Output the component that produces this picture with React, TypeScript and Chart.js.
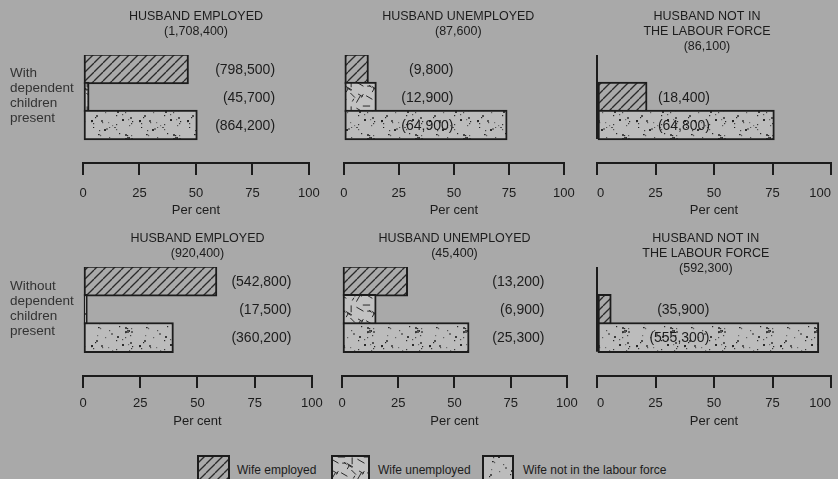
import React, { useEffect, useRef } from "react";
import { Chart, registerables } from "chart.js";

Chart.register(...registerables);

// ---------- data ----------
const panelTitles: string[][] = [
  ["HUSBAND EMPLOYED", "(1,708,400)"],
  ["HUSBAND UNEMPLOYED", "(87,600)"],
  ["HUSBAND NOT IN", "THE LABOUR FORCE", "(86,100)"],
  ["HUSBAND EMPLOYED", "(920,400)"],
  ["HUSBAND UNEMPLOYED", "(45,400)"],
  ["HUSBAND NOT IN", "THE LABOUR FORCE", "(592,300)"],
];
const wifeEmployedPct = [46.7, 11.2, 21.4, 58.5, 29.2, 6.1];
const wifeUnemployedPct: (number | null)[] = [2.7, 14.8, null, 1.9, 15.2, null];
const wifeNotInLabourForcePct = [50.6, 74.2, 75.8, 39.5, 56.5, 94.8];
const wifeEmployedCount = ["(798,500)", "(9,800)", "(18,400)", "(542,800)", "(13,200)", "(35,900)"];
const wifeUnemployedCount: (string | null)[] = ["(45,700)", "(12,900)", null, "(17,500)", "(6,900)", null];
const wifeNotInLabourForceCount = ["(864,200)", "(64,900)", "(64,800)", "(360,200)", "(25,300)", "(555,300)"];
const xTickValues = [0, 25, 50, 75, 100];
const axisTitle = "Per cent";
const rowLabels = [
  ["With", "dependent", "children", "present"],
  ["Without", "dependent", "children", "present"],
];
const legendLabels = ["Wife employed", "Wife unemployed", "Wife not in the labour force"];

// ---------- layout / style ----------
const BG = "#a9a9a9";
const INK = "#1c1c1c";
const FONT = "'Liberation Sans', Arial, sans-serif";
const COLS = [
  { left: 40, width: 290, x0: 83, x1: 317, tickAlign: "center" },
  { left: 330, width: 255, x0: 342, x1: 571, tickAlign: "center" },
  { left: 585, width: 270, x0: 597, x1: 831, tickAlign: "inner" },
];
const ROWS = [
  { top: 0, height: 225, barTop: 55, axisY: 163, tickLabelY: 193, perCentY: 210, titleY: 17 },
  { top: 225, height: 225, barTop: 267, axisY: 376, tickLabelY: 403, perCentY: 421, titleY: 239 },
];
const countLabelRightPct = [85, 49.8, 48.3, 91, 90, 48];
const titleCenterPct = [50, 52, 47, 50, 50, 46.5];
const showBaseLine = [false, false, true, false, false, true];
const TICK_FONT = 13;
const LH = TICK_FONT * 1.2;
const TICK_LEN = 12;
const Y_MIN = -0.5;
const Y_MAX = 3.36;

function lcg(seed: number) {
  let s = seed;
  return () => {
    s = (s * 1103515245 + 12345) % 2147483648;
    return s / 2147483648;
  };
}

function makeTile(kind: string): HTMLCanvasElement {
  const c = document.createElement("canvas");
  const ctx = c.getContext("2d")!;
  if (kind === "hatch") {
    const s = 9;
    c.width = s;
    c.height = s;
    ctx.fillStyle = "#aaaaaa";
    ctx.fillRect(0, 0, s, s);
    ctx.strokeStyle = "#2a2a2a";
    ctx.lineWidth = 1.3;
    for (const k of [-s, 0, s]) {
      ctx.beginPath();
      ctx.moveTo(k, s);
      ctx.lineTo(k + s, 0);
      ctx.stroke();
    }
  } else if (kind === "dots") {
    c.width = 48;
    c.height = 32;
    ctx.fillStyle = "#bcbcbc";
    ctx.fillRect(0, 0, 48, 32);
    const r = lcg(7);
    for (let i = 0; i < 46; i++) {
      const g = Math.floor(30 + r() * 90);
      ctx.fillStyle = `rgb(${g},${g},${g})`;
      const sz = r() < 0.3 ? 2 : 1.2;
      ctx.fillRect(Math.floor(r() * 48), Math.floor(r() * 32), sz, sz);
    }
  } else {
    c.width = 26;
    c.height = 26;
    ctx.fillStyle = "#c2c2c2";
    ctx.fillRect(0, 0, 26, 26);
    const r = lcg(11);
    ctx.strokeStyle = "#2a2a2a";
    ctx.lineWidth = 1;
    const angles = [0, Math.PI / 4, -Math.PI / 3, Math.PI / 2, Math.PI / 6];
    for (let i = 0; i < 14; i++) {
      const x = r() * 26;
      const y = r() * 26;
      const a = angles[Math.floor(r() * angles.length)];
      const len = 3 + r() * 6;
      ctx.beginPath();
      ctx.moveTo(x, y);
      ctx.lineTo(x + Math.cos(a) * len, y + Math.sin(a) * len);
      ctx.stroke();
    }
  }
  return c;
}

export default function App() {
  const canvasRefs = useRef<(HTMLCanvasElement | null)[]>([]);
  const swatchRefs = useRef<(HTMLCanvasElement | null)[]>([]);

  useEffect(() => {
    document.body.style.margin = "0";
    const tiles = { emp: makeTile("hatch"), unemp: makeTile("unemp"), nlf: makeTile("dots") };
    const charts: Chart[] = [];

    panelTitles.forEach((titleLines, i) => {
      const canvas = canvasRefs.current[i];
      if (!canvas) return;
      const ctx = canvas.getContext("2d")!;
      const row = ROWS[Math.floor(i / 3)];
      const col = COLS[i % 3];
      const pats = {
        emp: ctx.createPattern(tiles.emp, "repeat")!,
        unemp: ctx.createPattern(tiles.unemp, "repeat")!,
        nlf: ctx.createPattern(tiles.nlf, "repeat")!,
      };
      const empE = { pct: wifeEmployedPct[i], count: wifeEmployedCount[i], pat: pats.emp };
      const nlfE = { pct: wifeNotInLabourForcePct[i], count: wifeNotInLabourForceCount[i], pat: pats.nlf };
      const slots: ({ pct: number; count: string; pat: CanvasPattern } | null)[] =
        wifeUnemployedPct[i] == null
          ? [null, empE, nlfE]
          : [empE, { pct: wifeUnemployedPct[i] as number, count: wifeUnemployedCount[i] as string, pat: pats.unemp }, nlfE];
      const points: { x: number; y: number }[] = [];
      const colors: CanvasPattern[] = [];
      slots.forEach((s, k) => {
        if (s) {
          points.push({ x: s.pct, y: k });
          colors.push(s.pat);
        }
      });

      const axisHeight = row.perCentY + LH / 2 - row.axisY;
      const padBottom = row.top + row.height - (row.perCentY + LH / 2);
      const slotPx = (row.axisY - row.barTop) / (Y_MAX - Y_MIN);

      const decor = {
        id: "decor" + i,
        afterDraw(chart: any) {
          const c = chart.ctx;
          const xs = chart.scales.x;
          const ys = chart.scales.y;
          c.save();
          c.fillStyle = INK;
          c.font = `12.5px ${FONT}`;
          c.textAlign = "center";
          c.textBaseline = "middle";
          const cx = xs.getPixelForValue(titleCenterPct[i]);
          titleLines.forEach((t, j) => c.fillText(t, cx, row.titleY - row.top + j * 15));
          c.font = `14px ${FONT}`;
          c.textAlign = "right";
          const lx = xs.getPixelForValue(countLabelRightPct[i]);
          slots.forEach((s, k) => {
            if (s) c.fillText(s.count, lx, ys.getPixelForValue(k) + 1);
          });
          if (showBaseLine[i]) {
            c.strokeStyle = INK;
            c.lineWidth = 2;
            const x0 = xs.getPixelForValue(0);
            c.beginPath();
            c.moveTo(x0, ys.getPixelForValue(-0.5));
            c.lineTo(x0, ys.getPixelForValue(2.5));
            c.stroke();
          }
          c.restore();
        },
      };

      const chart = new Chart(canvas, {
        type: "bar",
        data: {
          datasets: [
            {
              data: points as any,
              backgroundColor: colors as any,
              borderColor: INK,
              borderWidth: 2,
              borderSkipped: false,
              barThickness: slotPx + 2,
            },
          ],
        },
        options: {
          indexAxis: "y",
          animation: false,
          responsive: false,
          events: [],
          layout: {
            padding: {
              left: col.x0 - col.left,
              right: col.left + col.width - col.x1,
              top: row.barTop - row.top,
              bottom: padBottom,
            },
          },
          plugins: { legend: { display: false }, tooltip: { enabled: false }, title: { display: false } },
          scales: {
            y: {
              type: "linear",
              display: false,
              reverse: true,
              offset: false,
              grid: { offset: false },
              bounds: "data",
              min: Y_MIN,
              max: Y_MAX,
              afterBuildTicks: (scale: any) => {
                scale.ticks = [0, 1, 2].map((v) => ({ value: v }));
              },
            },
            x: {
              type: "linear",
              position: "bottom",
              min: 0,
              max: 100,
              afterBuildTicks: (scale: any) => {
                scale.ticks = xTickValues.map((v) => ({ value: v }));
              },
              afterFit: (scale: any) => {
                scale.height = axisHeight;
              },
              ticks: {
                color: INK,
                font: { family: FONT, size: TICK_FONT },
                padding: row.tickLabelY - row.axisY - TICK_LEN - LH / 2,
                maxRotation: 0,
                autoSkip: false,
                align: col.tickAlign,
              },
              grid: {
                drawOnChartArea: false,
                drawTicks: true,
                tickLength: TICK_LEN,
                lineWidth: 2,
                color: INK,
              },
              border: { display: true, width: 2, color: INK },
              title: {
                display: true,
                text: axisTitle,
                color: INK,
                font: { family: FONT, size: TICK_FONT },
                padding: { top: 0, bottom: 0 },
              },
            },
          },
        },
        plugins: [decor],
      } as any);
      charts.push(chart);
    });

    const swTiles = [tiles.emp, tiles.unemp, tiles.nlf];
    swatchRefs.current.forEach((sw, k) => {
      if (!sw) return;
      const c = sw.getContext("2d")!;
      c.fillStyle = c.createPattern(swTiles[k], "repeat")!;
      c.fillRect(0, 0, sw.width, sw.height);
      c.strokeStyle = INK;
      c.lineWidth = 2;
      c.strokeRect(1, 1, sw.width - 2, sw.height - 2);
    });

    return () => charts.forEach((c) => c.destroy());
  }, []);

  const swatchPos = [
    { left: 197, width: 33, textLeft: 237 },
    { left: 331, width: 39, textLeft: 378 },
    { left: 482, width: 32, textLeft: 523 },
  ];

  return (
    <div
      style={{
        position: "relative",
        width: 838,
        height: 479,
        overflow: "hidden",
        background: BG,
        fontFamily: FONT,
        color: INK,
      }}
    >
      {panelTitles.map((_, i) => {
        const row = ROWS[Math.floor(i / 3)];
        const col = COLS[i % 3];
        return (
          <canvas
            key={i}
            ref={(el) => {
              canvasRefs.current[i] = el;
            }}
            width={col.width}
            height={row.height}
            style={{ position: "absolute", left: col.left, top: row.top, width: col.width, height: row.height }}
          />
        );
      })}
      {rowLabels.map((lines, r) => (
        <div
          key={r}
          style={{
            position: "absolute",
            left: 10,
            top: r === 0 ? 65 : 278,
            fontSize: 13.5,
            lineHeight: "15px",
            color: "#333",
          }}
        >
          {lines.map((l, j) => (
            <div key={j}>{l}</div>
          ))}
        </div>
      ))}
      {legendLabels.map((t, k) => (
        <React.Fragment key={k}>
          <canvas
            ref={(el) => {
              swatchRefs.current[k] = el;
            }}
            width={swatchPos[k].width}
            height={28}
            style={{ position: "absolute", left: swatchPos[k].left, top: 455, width: swatchPos[k].width, height: 28 }}
          />
          <div
            style={{
              position: "absolute",
              left: swatchPos[k].textLeft,
              top: 462,
              fontSize: 12,
              lineHeight: "16px",
              whiteSpace: "nowrap",
            }}
          >
            {t}
          </div>
        </React.Fragment>
      ))}
    </div>
  );
}
